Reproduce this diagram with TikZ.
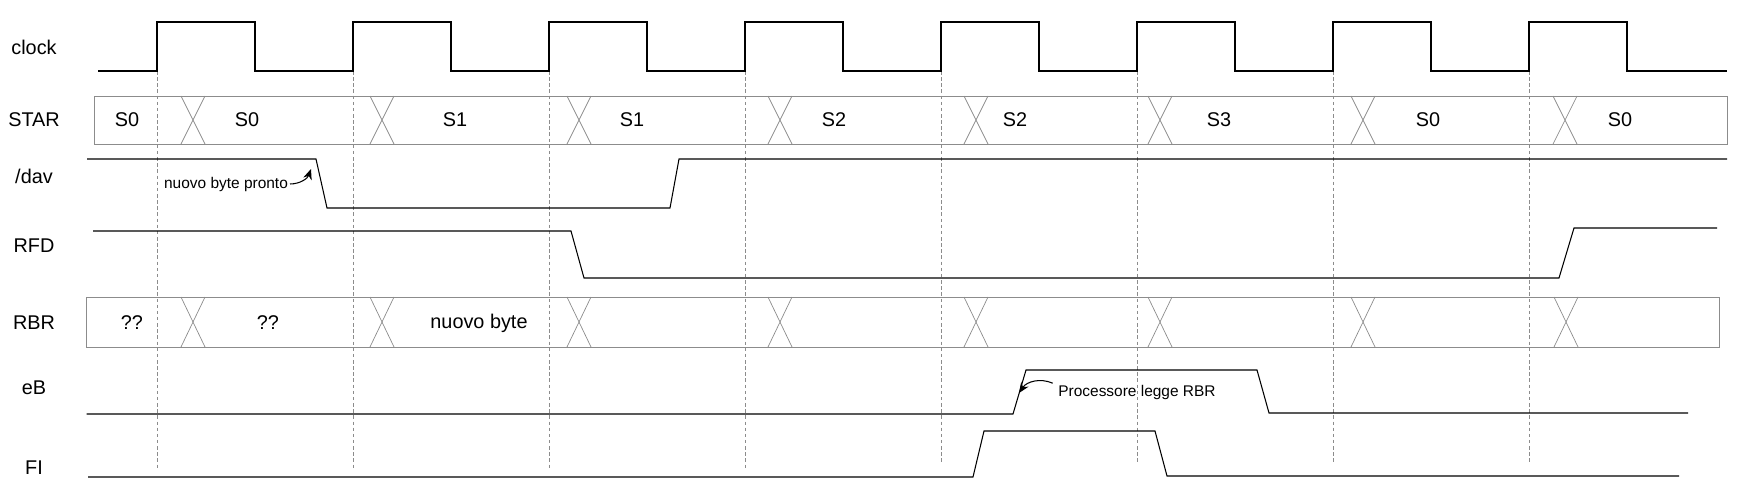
\documentclass[tikz,border=0pt]{standalone}
\usepackage{fontspec}
\setmainfont{Liberation Sans}
\usetikzlibrary{arrows.meta}
\begin{document}
\begin{tikzpicture}[x=0.02cm,y=-0.02cm,
    lbl/.style={font=\fontsize{11.3}{13}\selectfont,inner sep=1pt},
    note/.style={font=\fontsize{8.8}{10}\selectfont,inner sep=1pt},
    sig/.style={line width=0.6pt},
    clk/.style={line width=0.9pt},
    bus/.style={draw=black!45,line width=0.4pt},
    tick/.style={draw=black!45,line width=0.4pt,dash pattern=on 2pt off 1.5pt},
    pointer/.style={-{Stealth[length=6pt,width=5pt]},line width=0.6pt}]
      \useasboundingbox (0,0) rectangle (1745,501);
      % signal names
      \node[lbl] at (34,47) (lclock) {clock};
      \node[lbl] at (34,120) (lstar) {STAR};
      \node[lbl] at (34,176) (ldav) {/dav};
      \node[lbl] at (34,246) (lrfd) {RFD};
      \node[lbl] at (34,323) (lrbr) {RBR};
      \node[lbl] at (34,388) (leb) {eB};
      \node[lbl] at (34,468) (lfi) {FI};
      % clock edges
      \foreach \x/\e in {157/470,353/470,549/470,745/470,941/462,1137/462,1333/462,1529/462}
        \draw[tick] (\x,71) -- (\x,\e);
      \draw[clk] (98,71) \foreach \k in {0,...,7} {
          -- ({157+196*\k},71) -- ({157+196*\k},22) -- ({255+196*\k},22) -- ({255+196*\k},71)}
        -- (1727,71);
      % STAR
      \draw[bus] (94.5,96) rectangle (1727,144);
      \foreach \c in {193,382,579,780,976,1160,1363,1565}
        \draw[bus] (\c-12,96) -- (\c+12,144) (\c+12,96) -- (\c-12,144);
      \foreach \x/\t [count=\i] in {127/S0,247/S0,455/S1,632/S1,834/S2,1015/S2,1219/S3,1428/S0,1620/S0}
        \node[lbl] at (\x,120) (star\i) {\t};
      % /dav
      \draw[sig] (87,159) -- (316,159) -- (327,208) -- (670,208) -- (679,159) -- (1727,159);
      \node[note] at (226,184) (ndav) {nuovo byte pronto};
      \coordinate (tdav) at (311,169);
      \draw[pointer] (ndav.east) to[bend right=35] (tdav);
      % RFD
      \draw[sig] (93,231) -- (571,231) -- (584,278) -- (1559,278) -- (1574,228) -- (1717,228);
      % RBR
      \draw[bus] (86.5,297) rectangle (1719,347);
      \foreach \c in {193,382,579,780,976,1160,1363,1566}
        \draw[bus] (\c-12,297) -- (\c+12,347) (\c+12,297) -- (\c-12,347);
      \node[lbl] at (132,323) (rbr1) {??};
      \node[lbl] at (268,323) (rbr2) {??};
      \node[lbl] at (479,323) (rbr3) {nuovo byte};
      % eB
      \draw[sig] (86.5,414) -- (1013,414) -- (1026,370) -- (1257,370) -- (1269,413) -- (1688,413);
      \node[note] at (1137,392) (nproc) {Processore legge RBR};
      \coordinate (tproc) at (1019,393);
      \draw[pointer] ([xshift=-2pt,yshift=5pt]nproc.west) to[bend right=40] (tproc);
      % FI
      \draw[sig] (88,477) -- (973,477) -- (984,431) -- (1155,431) -- (1167,476) -- (1679,476);
    \end{tikzpicture}
\end{document}
